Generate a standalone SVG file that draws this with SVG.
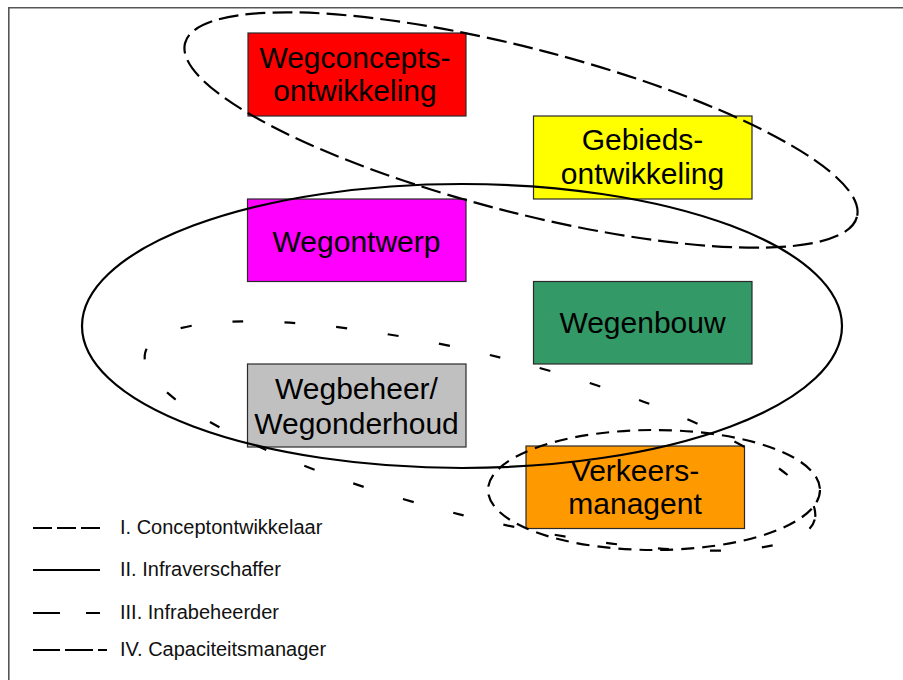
<svg xmlns="http://www.w3.org/2000/svg" width="903" height="680" viewBox="0 0 903 680">
  <style>
    .box { stroke: #2a2a2a; stroke-width: 1.2; }
    .lbl { font-family: "Liberation Sans", Arial, sans-serif; font-size: 30px; fill: #000; text-anchor: middle; }
    .leg { font-family: "Liberation Sans", Arial, sans-serif; font-size: 20px; fill: #111; }
    .ring { fill: none; stroke: #000; stroke-width: 2.2; }
    .r1 { stroke-dasharray: 20 7; }
    .r3 { stroke-dasharray: 11 41; }
    .r4 { stroke-dasharray: 13 8; }
    .frame { stroke: #555; stroke-width: 1.6; fill: none; }
  </style>

  <rect width="903" height="680" fill="#fff"/>
  <!-- page frame (top and left edges) -->
  <path class="frame" d="M8.8 680 V7.8 H903"/>

  <!-- activity boxes -->
  <g id="wegconcepts">
    <rect class="box" x="248" y="33" width="218" height="83" fill="#ff0000"/>
    <text class="lbl" x="355" y="68">Wegconcepts-</text>
    <text class="lbl" x="355" y="101">ontwikkeling</text>
  </g>
  <g id="gebieds">
    <rect class="box" x="533.5" y="116" width="218.5" height="83" fill="#ffff00"/>
    <text class="lbl" x="642.5" y="150">Gebieds-</text>
    <text class="lbl" x="642.5" y="184">ontwikkeling</text>
  </g>
  <g id="wegontwerp">
    <rect class="box" x="247.5" y="199" width="218.5" height="82.5" fill="#ff00ff"/>
    <text class="lbl" x="356.5" y="252">Wegontwerp</text>
  </g>
  <g id="wegenbouw">
    <rect class="box" x="533.5" y="281.5" width="218.5" height="82.5" fill="#339966"/>
    <text class="lbl" x="642.5" y="333">Wegenbouw</text>
  </g>
  <g id="wegbeheer">
    <rect class="box" x="247.5" y="364" width="218.5" height="83" fill="#c0c0c0"/>
    <text class="lbl" x="356.5" y="399">Wegbeheer/</text>
    <text class="lbl" x="356.5" y="434">Wegonderhoud</text>
  </g>
  <g id="verkeers">
    <rect class="box" x="526" y="446" width="218.5" height="82.5" fill="#ff9900"/>
    <text class="lbl" x="635" y="481">Verkeers-</text>
    <text class="lbl" x="635" y="514">managent</text>
  </g>

  <!-- role boundaries -->
  <g id="connectors">
    <ellipse class="ring r1" cx="521" cy="130" rx="347" ry="82" transform="rotate(14.5 521 130)"/>
    <ellipse class="ring" cx="462" cy="326" rx="380" ry="142"/>
    <ellipse class="ring r3" cx="480" cy="436" rx="345" ry="81" transform="rotate(14 480 436)"/>
    <ellipse class="ring r4" cx="654" cy="490" rx="166" ry="60"/>
  </g>

  <!-- legend -->
  <g id="legend">
    <line x1="33" y1="528" x2="100" y2="528" stroke="#000" stroke-width="2.2" stroke-dasharray="19 5"/>
    <text class="leg" x="120" y="534">I. Conceptontwikkelaar</text>
    <line x1="33" y1="570" x2="100" y2="570" stroke="#000" stroke-width="2.2"/>
    <text class="leg" x="120" y="576">II. Infraverschaffer</text>
    <path d="M33 613 H60 M86 613 H100" stroke="#000" stroke-width="2.2"/>
    <text class="leg" x="120" y="619">III. Infrabeheerder</text>
    <path d="M33 650 H60 M65 650 H93 M98 650 H107" stroke="#000" stroke-width="2.2"/>
    <text class="leg" x="120" y="656">IV. Capaciteitsmanager</text>
  </g>
</svg>
